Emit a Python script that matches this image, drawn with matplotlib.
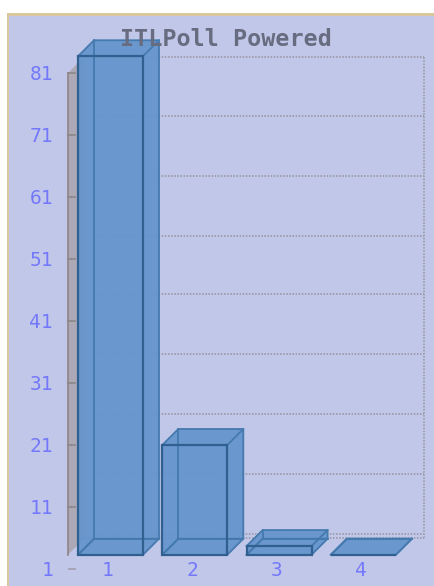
import matplotlib
matplotlib.use("Agg")
import matplotlib.pyplot as plt
from matplotlib.patches import Polygon, Rectangle

categorias = ["1", "2", "3", "4"]
valores = [83.7, 21, 4.7, 3.3]
ticks_y = [1, 11, 21, 31, 41, 51, 61, 71, 81]
grid_y = [6.6, 16.3, 26, 35.7, 45.4, 54.7, 64.4, 74.1, 83.6]
titulo = "ITLPoll Powered"

# escala: pixels por unidade
W, H = 435, 586
PX_X, PX_Y = 84.3, 6.2
base = 3.3
piso = 6.0
larg = 65 / PX_X
dx = 16 / PX_X
dy = 16 / PX_Y

AZUL = "#6494CC"
BORDA = "#2F6090"
BORDA_TRAS = "#457AAE"
FUNDO = "#C1C7E8"
BEGE = "#D8C89C"
TEXTO = "#7478FA"
PONTOS = "#A09EAE"

fig = plt.figure(figsize=(W / 100, H / 100), dpi=100, facecolor="white")
ax = fig.add_axes([0, 0, 1, 1])
ax.set_xlim(1 - 110.5 / PX_X, 1 + (W - 110.5) / PX_X)
ax.set_ylim(1 - (H - 569) / PX_Y, 1 + 569 / PX_Y)
ax.axis("off")

x0 = 1 - 110.5 / PX_X
y_topo = 1 + 569 / PX_Y
y_fim = 1 - (H - 569) / PX_Y
px = 1 / PX_X
py = 1 / PX_Y

# fundo e moldura
ax.add_patch(Rectangle((x0 + 7 * px, y_fim), (W - 7) * px, y_topo - 13 * py - y_fim,
                       fc=BEGE, ec="none", zorder=0))
ax.add_patch(Rectangle((x0 + 9 * px, y_fim), (W - 9) * px, y_topo - 16 * py - y_fim,
                       fc=FUNDO, ec="none", zorder=0))

# parede lateral
xp = x0 + 68 * px
topo_parede = ticks_y[-1]
ax.add_patch(Polygon([(xp, base), (xp + dx, base + dy), (xp + dx, topo_parede + dy),
                      (xp, topo_parede)], fc="#ADA8B6", ec="none", zorder=1))
ax.plot([xp, xp], [base, topo_parede], color="#8E8488", lw=1.2, zorder=2)
for t in ticks_y[1:]:
    ax.plot([xp, xp + 7 * px], [t, t], color="#8E8488", lw=1.2, zorder=2)
ax.plot([xp + 1 * px, xp + 7 * px], [1, 1], color="#A09EAE", lw=1.2, zorder=2)

# grade pontilhada
xg0 = xp + dx
xg1 = x0 + 424 * px
estilo = (0, (0.8, 0.8))
for g in grid_y:
    ax.plot([xg0, xg1], [g, g], color=PONTOS, lw=1.4, ls=estilo, zorder=2)
ax.plot([xg0, xg1], [piso, piso], color=PONTOS, lw=1.4, ls=estilo, zorder=2)
ax.plot([xg1, xg1], [piso, grid_y[-1]], color=PONTOS, lw=1.4, ls=estilo, zorder=2)

# barras
for i, v in enumerate(valores):
    c = i + 1
    e = c - larg / 2
    d = c + larg / 2
    ax.add_patch(Polygon([(e, base), (d, base), (d + dx, base + dy), (d + dx, v + dy),
                          (e + dx, v + dy), (e, v)],
                         fc=AZUL, ec="none", alpha=0.93, zorder=3))
    # arestas de tras
    ax.plot([e + dx, e + dx], [base + dy, v + dy], color=BORDA_TRAS, lw=1.3, zorder=4)
    ax.plot([e + dx, d + dx], [base + dy, base + dy], color=BORDA_TRAS, lw=1.3, zorder=4)
    ax.plot([e, e + dx], [base, base + dy], color=BORDA_TRAS, lw=1.3, zorder=4)
    # contorno
    ax.plot([d, d + dx, d + dx, e + dx, e], [v, v + dy, base + dy, base + dy, base],
            color=BORDA_TRAS, lw=1.3, zorder=4)
    ax.plot([e, e + dx, d + dx], [v, v + dy, v + dy], color=BORDA_TRAS, lw=1.3, zorder=4)
    ax.plot([d, d + dx], [base, base + dy], color=BORDA_TRAS, lw=1.3, zorder=4)
    # frente
    ax.add_patch(Rectangle((e, base), larg, v - base, fc="none", ec=BORDA, lw=1.6, zorder=5))

# textos
for t in ticks_y:
    ax.text(x0 + 53 * px, t - 2 * py, str(t), color=TEXTO, fontsize=14, family="DejaVu Sans Mono",
            ha="right", va="center", zorder=6)
for i, nome in enumerate(categorias):
    ax.text(i + 1 - 2.5 * px, 1 - 2 * py, nome, color=TEXTO, fontsize=14, family="DejaVu Sans Mono",
            ha="center", va="center", zorder=6)
ax.text(x0 + 226 * px, y_topo - 40 * py, titulo, color="#686C80", fontsize=16.8,
        family="DejaVu Sans Mono", weight="bold", ha="center", va="center", zorder=7)

fig.savefig("out.png", dpi=100, facecolor="white")
